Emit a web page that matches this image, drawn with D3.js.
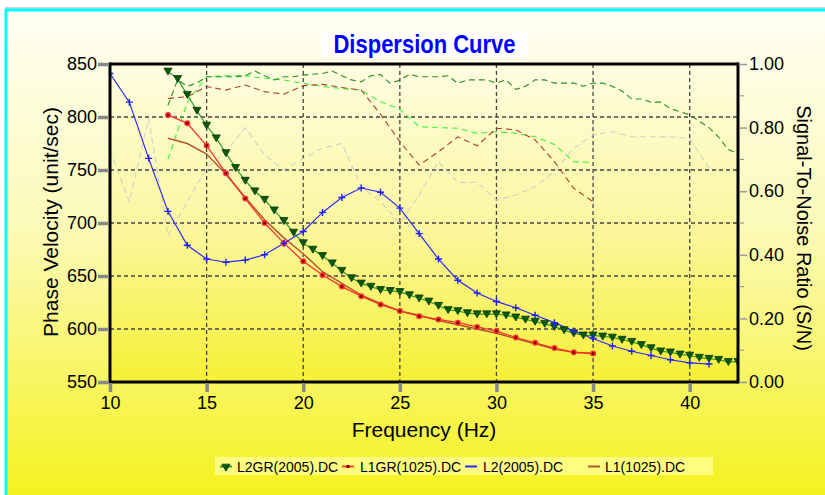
<!DOCTYPE html>
<html><head><meta charset="utf-8">
<script src="https://cdn.jsdelivr.net/npm/d3@7/dist/d3.min.js"></script>
<style>
body{margin:0;background:#fff;}
svg{display:block;font-family:"Liberation Sans",Arial,sans-serif;}
</style>
</head><body>
<svg id="chart" width="825" height="495"></svg>
<script>
// ---------- DATA ----------
const titleText = "Dispersion Curve";
const xLabel = "Frequency (Hz)";
const yLabelLeft = "Phase Velocity (unit/sec)";
const yLabelRight = "Signal-To-Noise Ratio (S/N)";

const xTicks = [10, 15, 20, 25, 30, 35, 40];
const yTicksLeft = [550, 600, 650, 700, 750, 800, 850];
const yTicksRight = [0, 0.2, 0.4, 0.6, 0.8, 1.0];
const yMinorRight = [0.1, 0.3, 0.5, 0.7, 0.9];

const seriesNames = ["L2GR(2005).DC", "L1GR(1025).DC", "L2(2005).DC", "L1(1025).DC"];

// L2GR(2005).DC  (0.5 Hz spacing)
const l2grFreq = [13,13.5,14,14.5,15,15.5,16,16.5,17,17.5,18,18.5,19,19.5,20,20.5,21,21.5,22,22.5,23,23.5,24,24.5,25,25.5,26,26.5,27,27.5,28,28.5,29,29.5,30,30.5,31,31.5,32,32.5,33,33.5,34,34.5,35,35.5,36,36.5,37,37.5,38,38.5,39,39.5,40,40.5,41,41.5,42,42.5];
const l2grVel  = [843,836,821,806,792,780,766,752,740,730,722,712,702,691,681,675,669,662,655,648,643,640,637,636,635,632,629,626,622,618,617,615,614,614,614,613,611,609,607,605,602,599,596,594,594,593,592,590,588,585,582,579,578,576,575,573,572,571,569,569];
const l2grSnr  = [0.87,0.95,0.93,0.94,0.96,0.96,0.96,0.96,0.963,0.978,0.963,0.95,0.96,0.96,0.965,0.968,0.97,0.978,0.963,0.95,0.944,0.963,0.967,0.939,0.95,0.967,0.96,0.96,0.96,0.963,0.939,0.95,0.95,0.95,0.94,0.95,0.92,0.93,0.95,0.95,0.94,0.94,0.94,0.93,0.94,0.94,0.93,0.915,0.89,0.89,0.88,0.88,0.86,0.85,0.84,0.82,0.80,0.77,0.73,0.72];

// L1GR(1025).DC  (1 Hz spacing)
const l1grFreq = [13,14,15,16,17,18,19,20,21,22,23,24,25,26,27,28,29,30,31,32,33,34,35];
const l1grVel  = [802,794,773,747,723,700,681,664,651,640,631,623,617,612,609,606,602,598,592,587,582,578,577];
const l1grSnr  = [0.70,0.88,0.96,0.963,0.963,0.955,0.95,0.939,0.929,0.923,0.918,0.881,0.858,0.803,0.80,0.798,0.782,0.787,0.782,0.771,0.747,0.693,0.69];

// L2(2005).DC
const l2Freq = [10,11,12,13,14,15,16,17,18,19,20,21,22,23,24,25,26,27,28,29,30,31,32,33,34,35,36,37,38,39,40,41];
const l2Vel  = [841,814,761,711,679,666,663,665,670,681,692,710,724,733,729,714,690,666,646,634,626,620,613,606,598,591,584,579,575,571,568,567];
const l2Snr  = [0.73,0.567,0.829,0.46,0.567,0.672,0.724,0.80,0.714,0.667,0.703,0.735,0.75,0.614,0.567,0.50,0.588,0.693,0.627,0.628,0.572,0.588,0.614,0.662,0.735,0.777,0.787,0.771,0.771,0.771,0.766,0.672];

// L1(1025).DC
const l1Freq = [13,14,15,16,17,18,19,20,21,22,23,24,25,26,27,28,29,30,31,32,33,34,35];
const l1Vel  = [780,775,765,746,724,703,686,671,654,643,632,624,617,613,608,604,600,596,591,586,581,578,577];
const l1Snr  = [0.892,0.897,0.929,0.918,0.934,0.913,0.905,0.932,0.936,0.926,0.918,0.842,0.756,0.682,0.724,0.771,0.743,0.798,0.793,0.761,0.693,0.609,0.567];

// ---------- LAYOUT ----------
const svg = d3.select("#chart");
const W = 825, H = 495;
const plot = {left:110, right:738, top:64, bottom:382};

const x = d3.scaleLinear().domain([10, 42.5]).range([plot.left, plot.right]);
const yL = d3.scaleLinear().domain([550, 850]).range([plot.bottom, plot.top]);
const yR = d3.scaleLinear().domain([0, 1]).range([plot.bottom, plot.top]);

const defs = svg.append("defs");
const g1 = defs.append("linearGradient").attr("id","bgOuter").attr("x1",0).attr("y1",0).attr("x2",0).attr("y2",1);
g1.append("stop").attr("offset","0%").attr("stop-color","#fffff4");
g1.append("stop").attr("offset","45%").attr("stop-color","#fcfab8");
g1.append("stop").attr("offset","100%").attr("stop-color","#f5f220");
const g2 = defs.append("linearGradient").attr("id","bgPlot").attr("x1",0).attr("y1",0).attr("x2",0).attr("y2",1);
g2.append("stop").attr("offset","0%").attr("stop-color","#fffde2");
g2.append("stop").attr("offset","50%").attr("stop-color","#fbf7a0");
g2.append("stop").attr("offset","100%").attr("stop-color","#f6f035");
defs.append("clipPath").attr("id","plotClip").append("rect")
  .attr("x",plot.left).attr("y",plot.top).attr("width",plot.right-plot.left).attr("height",plot.bottom-plot.top);

// outer background
svg.append("rect").attr("x",0).attr("y",0).attr("width",W).attr("height",H).attr("fill","#ffffff");
svg.append("rect").attr("x",5).attr("y",9).attr("width",W-5).attr("height",H-9).attr("fill","url(#bgOuter)");
svg.append("line").attr("x1",5).attr("x2",W).attr("y1",8).attr("y2",8).attr("stroke","#a0a0a0").attr("stroke-width",1);
svg.append("line").attr("x1",5).attr("x2",W).attr("y1",10).attr("y2",10).attr("stroke","#00ffff").attr("stroke-width",3);
svg.append("line").attr("x1",6).attr("x2",6).attr("y1",9).attr("y2",H).attr("stroke","#00ffff").attr("stroke-width",3);

// plot background
svg.append("rect").attr("x",plot.left).attr("y",plot.top).attr("width",plot.right-plot.left).attr("height",plot.bottom-plot.top).attr("fill","url(#bgPlot)");

// grid
const grid = svg.append("g");
grid.selectAll("line.gx").data(xTicks.filter(d=>d>10)).join("line")
  .attr("x1",d=>x(d)).attr("x2",d=>x(d)).attr("y1",plot.top).attr("y2",plot.bottom)
  .attr("stroke","#444").attr("stroke-width",1.3).attr("stroke-dasharray","4,3");
grid.selectAll("line.gy").data(yTicksLeft.filter(d=>d>550 && d<850)).join("line")
  .attr("x1",plot.left).attr("x2",plot.right).attr("y1",d=>yL(d)).attr("y2",d=>yL(d))
  .attr("stroke","#444").attr("stroke-width",1.3).attr("stroke-dasharray","4,3");

const clipG = svg.append("g").attr("clip-path","url(#plotClip)");

// SNR dashed curves
function snrLine(freq, snr, color){
  const data = freq.map((f,i)=>[f,snr[i]]);
  clipG.append("path").datum(data)
    .attr("d", d3.line().x(d=>x(d[0])).y(d=>yR(d[1])))
    .attr("fill","none").attr("stroke",color).attr("stroke-width",1.1).attr("stroke-dasharray","6,4");
}
snrLine(l2Freq, l2Snr, "#cfcfc8");
snrLine(l1grFreq, l1grSnr, "#3cf03c");
snrLine(l1Freq, l1Snr, "#a8402a");
snrLine(l2grFreq, l2grSnr, "#229022");

// velocity curves
function velLine(freq, vel, color, w){
  const data = freq.map((f,i)=>[f,vel[i]]);
  clipG.append("path").datum(data)
    .attr("d", d3.line().x(d=>x(d[0])).y(d=>yL(d[1])))
    .attr("fill","none").attr("stroke",color).attr("stroke-width",w);
  return data;
}
velLine(l1Freq, l1Vel, "#b0582a", 1.5);
const dL1gr = velLine(l1grFreq, l1grVel, "#ff2a2a", 1.2);
const dL2gr = velLine(l2grFreq, l2grVel, "#2a9a2a", 1.2);
const dL2 = velLine(l2Freq, l2Vel, "#2a2aff", 1.2);

const tri = d3.symbol().type(d3.symbolTriangle).size(28);
function drawTri(sel, cx, cy){
  sel.append("path").attr("d",tri()).attr("transform",`translate(${cx},${cy}) rotate(180)`)
    .attr("fill","#0a5a0a").attr("stroke","#063a06").attr("stroke-width",0.8);
}
function drawDot(sel, cx, cy){
  sel.append("circle").attr("cx",cx).attr("cy",cy).attr("r",3).attr("fill","#ff3030");
  sel.append("circle").attr("cx",cx).attr("cy",cy).attr("r",1.5).attr("fill","#800000");
}
function drawPlus(sel, cx, cy){
  sel.append("path").attr("d",`M${cx-3.5},${cy}H${cx+3.5}M${cx},${cy-3.5}V${cy+3.5}`)
    .attr("stroke","#2020ff").attr("stroke-width",1.4).attr("fill","none");
}
const mk = clipG.append("g");
dL1gr.forEach(d=>drawDot(mk, x(d[0]), yL(d[1])));
dL2gr.forEach(d=>drawTri(mk, x(d[0]), yL(d[1])-1));
dL2.forEach(d=>drawPlus(mk, x(d[0]), yL(d[1])));

// frame
const fr = svg.append("g").attr("stroke","#000").attr("stroke-width",3);
fr.append("line").attr("x1",plot.left).attr("x2",plot.right).attr("y1",plot.top).attr("y2",plot.top);
fr.append("line").attr("x1",plot.left).attr("x2",plot.right).attr("y1",plot.bottom).attr("y2",plot.bottom);
fr.append("line").attr("x1",plot.left).attr("x2",plot.left).attr("y1",plot.top-1.5).attr("y2",plot.bottom+1.5);
fr.append("line").attr("x1",plot.right).attr("x2",plot.right).attr("y1",plot.top-1.5).attr("y2",plot.bottom+1.5);

// axes
const axL = svg.append("g").attr("transform",`translate(${plot.left-1},0)`)
  .call(d3.axisLeft(yL).tickValues(yTicksLeft).tickSize(11).tickPadding(1).tickFormat(d3.format("d")));
axL.select(".domain").remove();
axL.selectAll(".tick line").attr("stroke","#888").attr("stroke-width",3.5);
axL.selectAll(".tick text").attr("font-size",18).attr("fill","#000").attr("font-family","Liberation Sans, Arial, sans-serif");

const axB = svg.append("g").attr("transform",`translate(0,${plot.bottom+1})`)
  .call(d3.axisBottom(x).tickValues(xTicks).tickSize(9).tickPadding(4).tickFormat(d3.format("d")));
axB.select(".domain").remove();
axB.selectAll(".tick line").attr("stroke","#888").attr("stroke-width",3.5);
axB.selectAll(".tick text").attr("font-size",18).attr("fill","#000").attr("font-family","Liberation Sans, Arial, sans-serif");

const axR = svg.append("g").attr("transform",`translate(${plot.right+1},0)`)
  .call(d3.axisRight(yR).tickValues(yTicksRight).tickSize(8).tickPadding(2).tickFormat(d3.format(".2f")));
axR.select(".domain").remove();
axR.selectAll(".tick line").attr("stroke","#999").attr("stroke-width",1.5);
axR.selectAll(".tick text").attr("font-size",18).attr("fill","#000").attr("font-family","Liberation Sans, Arial, sans-serif");
svg.append("g").selectAll("line").data(yMinorRight).join("line")
  .attr("x1",plot.right+1).attr("x2",plot.right+6).attr("y1",d=>yR(d)).attr("y2",d=>yR(d))
  .attr("stroke","#999").attr("stroke-width",1.2);

// title
svg.append("rect").attr("x",321).attr("y",31).attr("width",207).attr("height",26).attr("fill","#ffffff");
svg.append("text").attr("x",424.5).attr("y",53).attr("text-anchor","middle")
  .attr("font-family","Liberation Sans Narrow, Arial Narrow, Liberation Sans, sans-serif")
  .attr("font-weight","bold").attr("font-size",25).attr("fill","#0000ff")
  .attr("textLength",182).attr("lengthAdjust","spacingAndGlyphs").text(titleText);

// axis titles
svg.append("text").attr("x",424).attr("y",437).attr("text-anchor","middle")
  .attr("font-size",21).attr("fill","#000").text(xLabel);
svg.append("text").attr("transform","translate(58,222) rotate(-90)").attr("text-anchor","middle")
  .attr("font-size",21).attr("fill","#000").text(yLabelLeft);
svg.append("text").attr("transform","translate(797,228) rotate(90)").attr("text-anchor","middle")
  .attr("font-size",20).attr("fill","#000").text(yLabelRight);

// legend
const lg = svg.append("g");
lg.append("rect").attr("x",215).attr("y",457).attr("width",498).attr("height",18).attr("fill","#fdfd80");
const legX = [220, 342, 465, 588];
const legTextX = [237, 360, 483, 605];
const legColors = ["#2a9a2a", "#ff4a2a", "#2a2aff", "#b0582a"];
seriesNames.forEach((name,i)=>{
  const ly = 466.5;
  lg.append("line").attr("x1",legX[i]).attr("x2",legX[i]+12).attr("y1",ly).attr("y2",ly)
    .attr("stroke",legColors[i]).attr("stroke-width",2);
  const cx = legX[i]+6;
  if(i===0) drawTri(lg, cx, ly);
  if(i===1) lg.append("circle").attr("cx",cx).attr("cy",ly).attr("r",1.8).attr("fill","#800000");
  lg.append("text").attr("x",legTextX[i]).attr("y",471.5).attr("font-size",14).attr("fill","#000").text(name);
});
</script>
</body></html>
